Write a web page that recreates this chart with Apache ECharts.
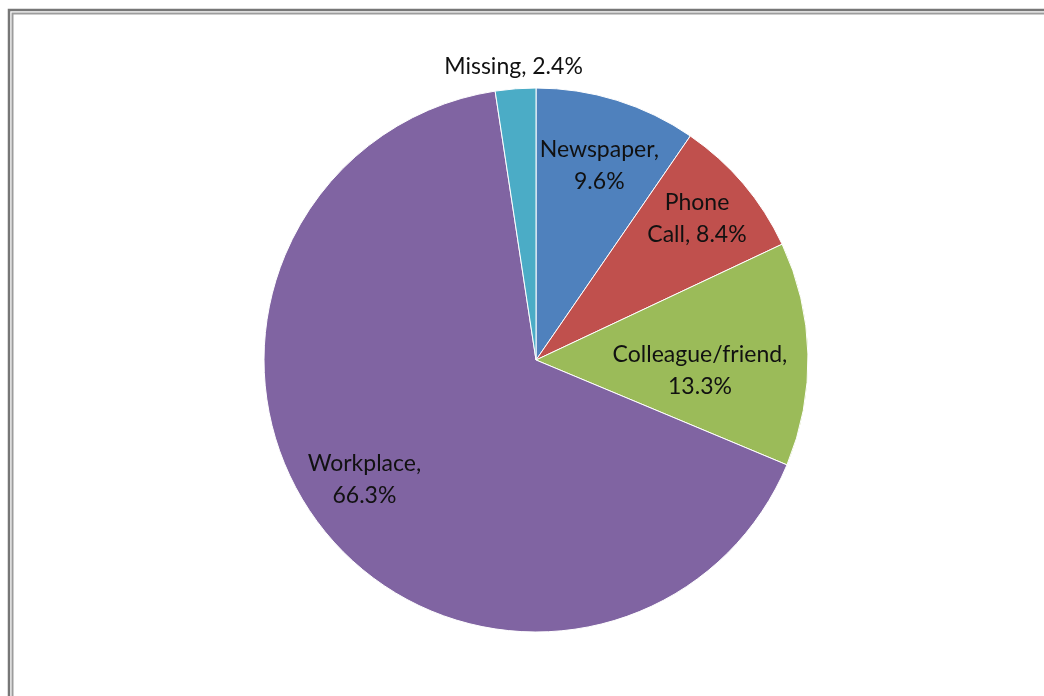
<!DOCTYPE html>
<html>
<head>
<meta charset="utf-8">
<script src="https://cdn.jsdelivr.net/npm/echarts@6/dist/echarts.min.js"></script>
<style>
html,body{margin:0;padding:0;background:#fff;}
#chart{width:1044px;height:696px;}
</style>
</head>
<body>
<div id="chart"></div>
<script>
const categories = ['Newspaper', 'Phone Call', 'Colleague/friend', 'Workplace', 'Missing'];
const values = [9.6, 8.4, 13.3, 66.3, 2.4];
const labelTexts = ['Newspaper,\n9.6%', 'Phone\nCall, 8.4%', 'Colleague/friend,\n13.3%', 'Workplace,\n66.3%', 'Missing, 2.4%'];
const colors = ['#4F81BD', '#C0504D', '#9BBB59', '#8064A2', '#4BACC6'];
const labelOffsets = [[22, -62], [55, -51], [25, 14], [-62, 34], [-12, -155]];

const chart = echarts.init(document.getElementById('chart'), null, {renderer: 'canvas'});
const data = categories.map((c, i) => ({
  name: c,
  value: values[i],
  itemStyle: {color: colors[i]},
  label: {formatter: labelTexts[i]}
}));

chart.setOption({
  animation: false,
  backgroundColor: '#fff',
  graphic: [
    {type: 'rect', shape: {x: 9, y: 10, width: 1100, height: 800}, style: {fill: 'none', stroke: '#777777', lineWidth: 2.5}, silent: true},
    {type: 'rect', shape: {x: 12.5, y: 13.5, width: 1100, height: 800}, style: {fill: 'none', stroke: '#9c9c9c', lineWidth: 2}, silent: true}
  ],
  series: [{
    type: 'pie',
    center: [536, 360],
    radius: [0, 272],
    startAngle: 90,
    clockwise: true,
    avoidLabelOverlap: false,
    itemStyle: {borderColor: '#fff', borderWidth: 1},
    label: {
      show: true,
      position: 'inside',
      color: '#111',
      fontFamily: 'Lato',
      fontSize: 23,
      lineHeight: 32,
      align: 'center'
    },
    labelLayout: function (params) {
      const o = labelOffsets[params.dataIndex];
      return {dx: o[0], dy: o[1], hideOverlap: false};
    },
    labelLine: {show: false},
    emphasis: {disabled: true},
    data: data
  }]
});
</script>
</body>
</html>
